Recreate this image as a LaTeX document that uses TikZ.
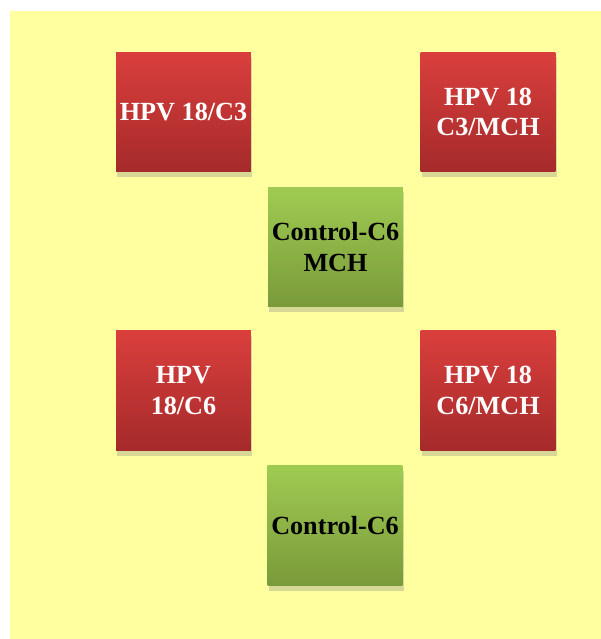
\documentclass[tikz,border=0pt]{standalone}
\usepackage{fontspec}
\setmainfont{Liberation Serif}
\usetikzlibrary{shadows}
\definecolor{paper}{HTML}{FFFFA0}
\definecolor{redtop}{HTML}{DA3F3D}
\definecolor{redbot}{HTML}{A52A2A}
\definecolor{greentop}{HTML}{9FCB52}
\definecolor{greenbot}{HTML}{7A9A3A}

\begin{document}
\begin{tikzpicture}[x=0.02cm, y=-0.02cm,
    tile/.style={minimum width=2.7cm, minimum height=2.4cm, inner sep=0pt,
      align=center, font=\fontsize{14.9}{17.2}\selectfont\bfseries,
      drop shadow={shadow xshift=0.6pt, shadow yshift=-3pt, opacity=0.3}},
    hpv/.style={tile, top color=redtop, bottom color=redbot, text=white},
    ctrl/.style={tile, top color=greentop, bottom color=greenbot, text=black}]
      % Fix the page and draw the yellow ground
      \useasboundingbox (0,0) rectangle (601,639);
      \fill[paper] (10,11) rectangle (601,639);

      % Red HPV 18 boxes
      \node[hpv] (c3) at (183.5,112) {HPV 18/C3};
      \node[hpv] (c3mch) at (488,112) {HPV 18\\C3/MCH};
      \node[hpv] (c6) at (183.5,390.5) {HPV\\18/C6};
      \node[hpv] (c6mch) at (488,390.5) {HPV 18\\C6/MCH};

      % Green control boxes
      \node[ctrl] (ctrlmch) at (335.5,247) {Control-C6\\MCH};
      \node[ctrl] (ctrlc6) at (335,525.5) {Control-C6};
\end{tikzpicture}
\end{document}
